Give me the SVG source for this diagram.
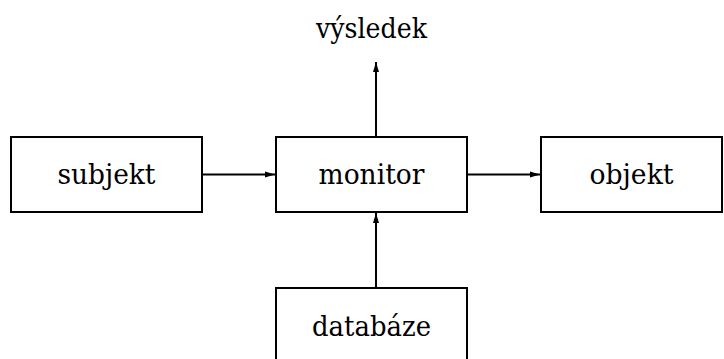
<svg xmlns="http://www.w3.org/2000/svg" width="724" height="359" viewBox="0 0 724 359">
<style>
.box{fill:#fff;stroke:#000;stroke-width:2}
.lbl{font-family:'DejaVu Serif',serif;font-size:27px;fill:#000;text-anchor:middle}
.edge{stroke:#000;stroke-width:2;fill:none}
</style>
<defs>
<marker id="ah2" viewBox="0 0 10 10" refX="10" refY="5" markerWidth="10" markerHeight="10" orient="auto" markerUnits="userSpaceOnUse">
<path d="M0,2 L10,5 L0,8 Z" fill="#000"/>
</marker>
</defs>
<g id="connectors">
<line class="edge" x1="202" y1="174.5" x2="275" y2="174.5" marker-end="url(#ah2)"/>
<line class="edge" x1="467" y1="174.5" x2="540" y2="174.5" marker-end="url(#ah2)"/>
<line class="edge" x1="376" y1="137" x2="376" y2="62" marker-end="url(#ah2)"/>
<line class="edge" x1="376" y1="288" x2="376" y2="213" marker-end="url(#ah2)"/>
</g>
<g id="subjekt">
<rect class="box" x="11" y="137" width="191" height="75"/>
<text class="lbl" x="106.5" y="184" textLength="98" lengthAdjust="spacingAndGlyphs">subjekt</text>
</g>
<g id="monitor">
<rect class="box" x="276" y="137" width="191" height="75"/>
<text class="lbl" x="371.5" y="184" textLength="106" lengthAdjust="spacingAndGlyphs">monitor</text>
</g>
<g id="objekt">
<rect class="box" x="541" y="137" width="181" height="75"/>
<text class="lbl" x="631.5" y="184" textLength="84" lengthAdjust="spacingAndGlyphs">objekt</text>
</g>
<g id="databaze">
<rect class="box" x="276" y="288" width="191" height="75"/>
<text class="lbl" x="371.5" y="336" textLength="119" lengthAdjust="spacingAndGlyphs">databáze</text>
</g>
<g id="vysledek">
<text class="lbl" x="371.5" y="38" textLength="111" lengthAdjust="spacingAndGlyphs">výsledek</text>
</g>
</svg>
